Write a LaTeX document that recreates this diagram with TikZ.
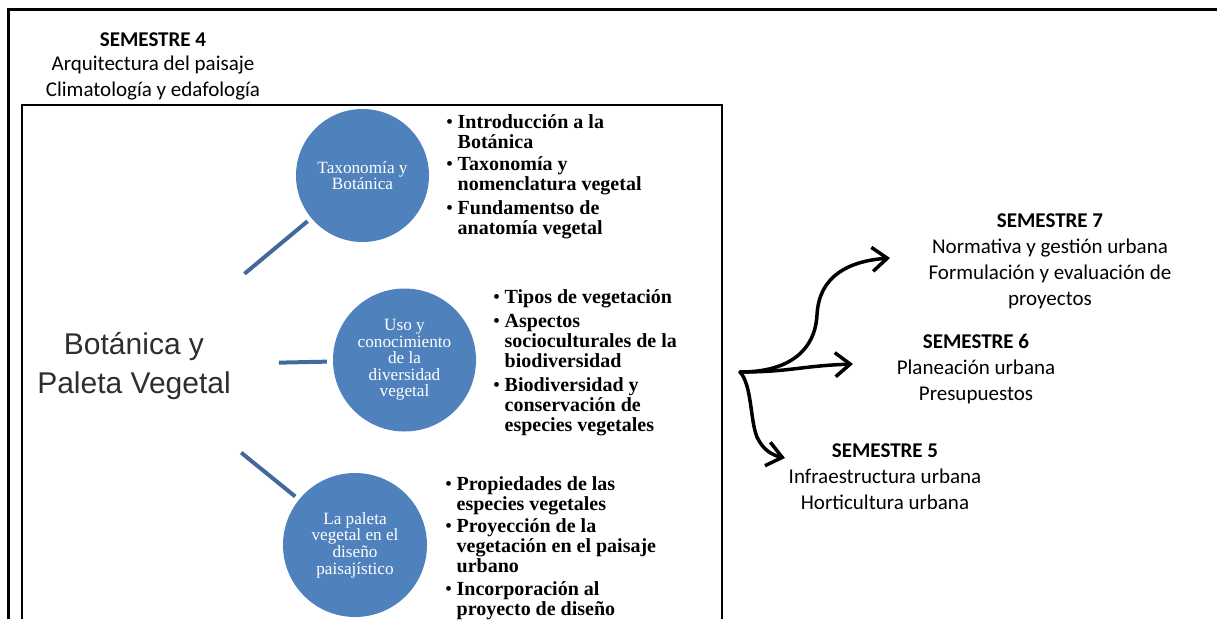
\documentclass[tikz,border=0pt]{standalone}
\usepackage{fontspec}
\newfontfamily\calib{Carlito}
\newfontfamily\tnr{Liberation Serif}
\newfontfamily\arl{Liberation Sans}
\usetikzlibrary{arrows.meta}
\definecolor{cblue}{HTML}{4F81BD}
\definecolor{lblue}{HTML}{43699C}
\definecolor{dgrey}{HTML}{2E2E2E}
\newcommand{\tlines}[1]{\begin{tabular}[t]{@{}c@{}}#1\end{tabular}}
\newcommand{\blist}[1]{\begin{tabular}[t]{@{}l@{}l@{}}#1\end{tabular}}
\newcommand{\bul}{\makebox[11.5pt][l]{\mdseries\textbullet}}
\tikzset{
  frame/.style={line width=3pt},
  innerbox/.style={line width=2.5pt},
  circ/.style={circle, fill=cblue, draw=none, inner sep=0pt, text=white, align=center,
    font=\tnr\fontsize{17.2}{16.6}\selectfont},
  conn/.style={draw=lblue, line width=4pt},
  semtxt/.style={inner sep=0pt, anchor=base, font=\calib\fontsize{21}{26}\selectfont},
  listtxt/.style={inner sep=0pt, anchor=base west, font=\tnr\bfseries\fontsize{20}{20}\selectfont},
  bottxt/.style={inner sep=0pt, anchor=base, text=dgrey, font=\arl\fontsize{30}{39}\selectfont},
  arr/.style={line width=3.5pt, line cap=round, -{Straight Barb[length=15pt,width=24pt]}}
}
\begin{document}
\begin{tikzpicture}[x=1pt,y=-1pt]
\useasboundingbox (0,0) rectangle (1217,619);
% frames
\draw[frame] (8,619) -- (8,9) -- (1217,9);
\draw[innerbox] (22,619) -- (22,105) -- (722,105) -- (722,619);
% semester 4
\node[semtxt] (s4) at (153,46) {\tlines{\bfseries SEMESTRE 4\\[-2pt] Arquitectura del paisaje\\ Climatología y edafología}};
% central topic
\node[bottxt] (bot) at (134,354) {\tlines{Botánica y\\Paleta Vegetal}};
% circles
\node[circ, minimum size=133pt] (c1) at (362.5,175.5) {Taxonomía y\\Botánica};
\node[circ, minimum size=143pt] (c2) at (404.5,360) {Uso y\\conocimiento\\de la\\diversidad\\vegetal};
\node[circ, minimum size=144pt] (c3) at (355,545) {La paleta\\vegetal en el\\diseño\\paisajístico};
% connectors
\draw[conn, shorten <=143.7pt, shorten >=71.5pt] (bot.center) -- (c1.center);
\draw[conn, shorten <=145pt, shorten >=77.6pt] (bot.center) -- (c2.center);
\draw[conn, shorten <=138pt, shorten >=77pt] (bot.center) -- (c3.center);
% lists
\node[listtxt] (l1) at (446,128) {\blist{\bul & Introducción a la\\ & Botánica\\[2.5pt]
 \bul & Taxonomía y\\ & nomenclatura vegetal\\[3.5pt]
 \bul & Fundamentso de\\ & anatomía vegetal}};
\node[listtxt] (l2) at (493,303) {\blist{\bul & Tipos de vegetación\\[4pt]
 \bul & Aspectos\\ & socioculturales de la\\ & biodiversidad\\[4.5pt]
 \bul & Biodiversidad y\\ & conservación de\\ & especies vegetales}};
\node[listtxt] (l3) at (445,490) {\blist{\bul & Propiedades de las\\ & especies vegetales\\[2.5pt]
 \bul & Proyección de la\\ & vegetación en el paisaje\\ & urbano\\[3pt]
 \bul & Incorporación al\\ & proyecto de diseño}};
% semesters right
\node[semtxt] (s7) at (1050,227) {\tlines{\bfseries SEMESTRE 7\\ Normativa y gestión urbana\\ Formulación y evaluación de\\ proyectos}};
\node[semtxt] (s6) at (976,348) {\tlines{\bfseries SEMESTRE 6\\ Planeación urbana\\ Presupuestos}};
\node[semtxt] (s5) at (885,457) {\tlines{\bfseries SEMESTRE 5\\ Infraestructura urbana\\ Horticultura urbana}};
% arrows
\coordinate (fork) at (740,372);
\coordinate (t7) at (890,258);
\coordinate (t6) at (853,364);
\coordinate (t5) at (785,458);
\draw[arr] (fork) .. controls (790,372) and (815,350) .. (817,315) .. controls (819,275) and (850,261) .. (t7);
\draw[arr] (fork) .. controls (790,372) and (800,366) .. (t6);
\draw[arr] (fork) .. controls (752,385) and (750,420) .. (757,437) .. controls (763,450) and (772,455) .. (t5);
\end{tikzpicture}
\end{document}
